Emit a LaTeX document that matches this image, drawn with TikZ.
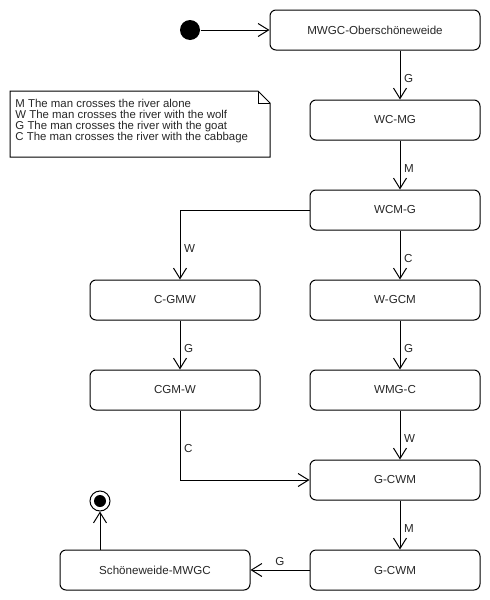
\documentclass[tikz,border=0pt]{standalone}
\usepackage{fontspec}
\setmainfont{Liberation Sans}
\usetikzlibrary{arrows.meta,calc}
\begin{document}
\begin{tikzpicture}[x=1pt,y=-1pt,
  every path/.style={line width=1pt},
  statebox/.style={draw, rounded corners=6pt, inner sep=0pt, minimum height=40pt,
    font=\fontsize{11.6}{13}\selectfont, text=black!85},
  arr/.style={-{Straight Barb[length=10.5pt,width=13pt]}},
  lbl/.style={anchor=west, inner sep=0pt, xshift=3.5pt, font=\fontsize{11.6}{13}\selectfont, text=black!85}
]
\useasboundingbox (0,0) rectangle (490,600);

% column coordinates
\coordinate (colR) at (400,0);
\coordinate (colL) at (180,0);

% states
\node[statebox, minimum width=210pt] (A) at (375,30) {MWGC-Oberschöneweide};
\node[statebox, minimum width=170pt] (B) at (395,120) {WC-MG};
\node[statebox, minimum width=170pt] (C) at (395,210) {WCM-G};
\node[statebox, minimum width=170pt] (D) at (175,300) {C-GMW};
\node[statebox, minimum width=170pt] (E) at (395,300) {W-GCM};
\node[statebox, minimum width=170pt] (F) at (175,390) {CGM-W};
\node[statebox, minimum width=170pt] (G) at (395,390) {WMG-C};
\node[statebox, minimum width=170pt] (H) at (395,480) {G-CWM};
\node[statebox, minimum width=170pt] (I) at (395,570) {G-CWM};
\node[statebox, minimum width=190pt] (J) at (155,570) {Schöneweide-MWGC};

% start and end
\node[circle, fill=black, minimum size=20pt, inner sep=0pt] (start) at (190,30) {};
\node[circle, draw, minimum size=20pt, inner sep=0pt] (end) at (100,501) {};
\node[circle, fill=black, minimum size=12pt, inner sep=0pt] (endin) at (end) {};

% note
\coordinate (n1) at (10,91);
\coordinate (n2) at (258,91);
\coordinate (n3) at (270,103);
\coordinate (n4) at (270,157);
\coordinate (n5) at (10,157);
\draw (n1) -- (n2) -- (n3) -- (n4) -- (n5) -- cycle;
\draw (n2) -- (n2 |- n3) -- (n3);
\node[anchor=north west, align=left, inner sep=0pt, font=\fontsize{11.4}{11.2}\selectfont, text=black!85] (notetext) at (15,98.4)
 {M The man crosses the river alone\\
  W The man crosses the river with the wolf\\
  G The man crosses the river with the goat\\
  C The man crosses the river with the cabbage};

% transitions
\draw[arr] (start) -- (A.west);
\draw[arr] (colR |- A.south) -- node[lbl, pos=0.58] {G} (colR |- B.north);
\draw[arr] (colR |- B.south) -- node[lbl, pos=0.58] {M} (colR |- C.north);
\draw[arr] (C.west) -| node[lbl, pos=0.78] {W} (colL |- D.north);
\draw[arr] (colR |- C.south) -- node[lbl, pos=0.58] {C} (colR |- E.north);
\draw[arr] (colL |- D.south) -- node[lbl, pos=0.58] {G} (colL |- F.north);
\draw[arr] (colR |- E.south) -- node[lbl, pos=0.58] {G} (colR |- G.north);
\draw[arr] (colL |- F.south) |- node[lbl, pos=0.27] {C} (H.west);
\draw[arr] (colR |- G.south) -- node[lbl, pos=0.58] {W} (colR |- H.north);
\draw[arr] (colR |- H.south) -- node[lbl, pos=0.58] {M} (colR |- I.north);
\draw[arr] (I.west) -- node[anchor=south, inner sep=0pt, yshift=4pt, font=\fontsize{11.6}{13}\selectfont, text=black!85] {G} (J.east);
\draw[arr] (end |- J.north) -- (end.south);
\end{tikzpicture}
\end{document}
